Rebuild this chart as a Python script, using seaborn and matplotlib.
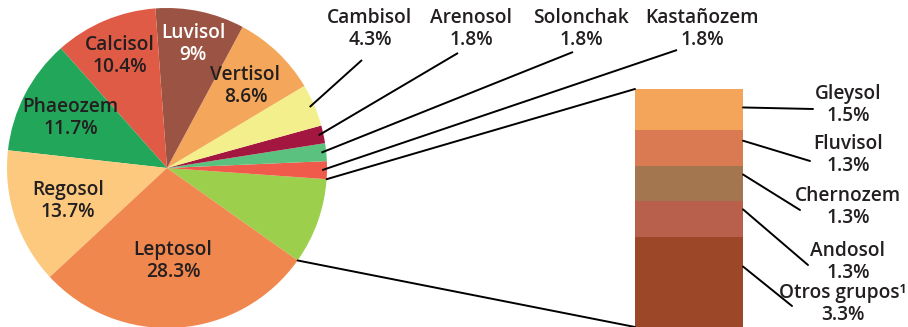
import numpy as np
import matplotlib
matplotlib.use("Agg")
import matplotlib.pyplot as plt
import seaborn as sns

# Soil groups in the pie, counterclockwise starting with the grouped slice
pie_groups = ["Otros", "Kastañozem", "Solonchak", "Arenosol", "Cambisol",
              "Vertisol", "Luvisol", "Calcisol", "Phaeozem", "Regosol", "Leptosol"]
pie_values = [8.7, 1.8, 1.8, 1.8, 4.3, 8.6, 9.0, 10.4, 11.7, 13.7, 28.3]
pie_colors = ["#9BCF4C", "#F05A4A", "#5BC17F", "#A3163F", "#F3EF8C",
              "#F4A65A", "#9B5444", "#E05B45", "#22A659", "#FCC97E", "#F0874E"]

# Breakdown of the grouped slice, top to bottom
bar_groups = ["Gleysol", "Fluvisol", "Chernozem", "Andosol", "Otros grupos¹"]
bar_values = [1.5, 1.3, 1.3, 1.3, 3.3]
bar_colors = ["#F5A55A", "#D97A52", "#A47650", "#B9604C", "#9C4728"]

W, H = 908, 327
sns.set_theme(style="white")
plt.rcParams["font.family"] = ["Open Sans", "DejaVu Sans"]
TXT = "#231f20"
FS = 13.8

fig = plt.figure(figsize=(W / 100, H / 100), dpi=100)

# pie placed with centre (167, 168) px and radius 160 px
cx, cy, R = 167, 168, 160
ax_pie = fig.add_axes([(cx - R) / W, (H - cy - R) / H, 2 * R / W, 2 * R / H])
wedges, _ = ax_pie.pie(pie_values, colors=pie_colors, startangle=-35.3,
                       counterclock=True, wedgeprops=dict(linewidth=0))
ax_pie.set_xlim(-1, 1)
ax_pie.set_ylim(-1, 1)
ax_pie.set_aspect("auto")
ax_pie.axis("off")

# stacked bar for the grouped slice
bx0, bx1, by0, by1 = 635, 743, 89, 327
ax_bar = fig.add_axes([bx0 / W, (H - by1) / H, (bx1 - bx0) / W, (by1 - by0) / H])
tops = np.cumsum(bar_values[::-1])[::-1]
for h, c in zip(tops, bar_colors):
    sns.barplot(x=["g"], y=[h], color=c, width=1, saturation=1,
                linewidth=0, ax=ax_bar)
ax_bar.set_xlim(-0.5, 0.5)
ax_bar.set_ylim(0, tops[0])
ax_bar.axis("off")

# overlay in pixel coordinates for labels and leader lines
ov = fig.add_axes([0, 0, 1, 1], zorder=5)
ov.set_xlim(0, W)
ov.set_ylim(H, 0)
ov.axis("off")
ov.patch.set_alpha(0)


def to_px(ax, x, y):
    d = ax.transData.transform((x, y))
    return ov.transData.inverted().transform(d)


def pie_point(angle_deg, r):
    a = np.deg2rad(angle_deg)
    return to_px(ax_pie, r * np.cos(a), r * np.sin(a))


def label(x, y, name, val, color=TXT):
    ov.text(x, y, f"{name}\n{val:g}%", ha="center", va="center",
            fontsize=FS, fontweight="semibold", color=color, linespacing=1.13)


# labels inside the large slices: radius fraction per slice
inside = {"Vertisol": 0.71, "Luvisol": 0.79, "Calcisol": 0.76,
          "Phaeozem": 0.68, "Regosol": 0.65, "Leptosol": 0.58}
for w, name, val in zip(wedges, pie_groups, pie_values):
    mid = (w.theta1 + w.theta2) / 2
    if name in inside:
        x, y = pie_point(mid, inside[name])
        label(x, y, name, val, color="white" if name == "Luvisol" else TXT)

# labels above for the narrow slices
top_pos = {"Cambisol": (370, 29), "Arenosol": (471, 29),
           "Solonchak": (581, 29), "Kastañozem": (702, 29)}
top_end = {"Cambisol": (362, 60), "Arenosol": (458, 53),
           "Solonchak": (573, 52), "Kastañozem": (677, 50)}
for w, name, val in zip(wedges, pie_groups, pie_values):
    if name in top_pos:
        mid = (w.theta1 + w.theta2) / 2
        sx, sy = pie_point(mid, 0.97)
        ex, ey = top_end[name]
        ov.plot([sx, ex], [sy, ey], color="black", lw=1.4, solid_capstyle="butt")
        label(*top_pos[name], name, val)

# connectors from the grouped slice to the bar
g = wedges[0]
p_top = pie_point(g.theta2, 1.0)
p_bot = pie_point(g.theta1, 1.0)
b_top = to_px(ax_bar, -0.5, tops[0])
b_bot = to_px(ax_bar, -0.5, 0)
ov.plot([p_top[0], b_top[0]], [p_top[1], b_top[1]], color="black", lw=1.4)
ov.plot([p_bot[0], b_bot[0]], [p_bot[1], b_bot[1]], color="black", lw=1.4)

# labels to the right of the bar
anchor_frac = [0.45, 0.3, 0.25, 0.23, 0.33]
right_end = [(813, 109), (810, 161), (800, 210), (808, 265), (792, 306)]
right_pos = [(848, 105), (848, 155), (848, 207), (848, 262), (843, 304)]
bottoms = tops - np.array(bar_values)
for i, (name, val) in enumerate(zip(bar_groups, bar_values)):
    yv = bottoms[i] + (1 - anchor_frac[i]) * bar_values[i]
    sx, sy = to_px(ax_bar, 0.5, yv)
    ex, ey = right_end[i]
    ov.plot([sx, ex], [sy, ey], color="black", lw=1.4)
    label(*right_pos[i], name, val)

fig.savefig("out.png", dpi=100)
